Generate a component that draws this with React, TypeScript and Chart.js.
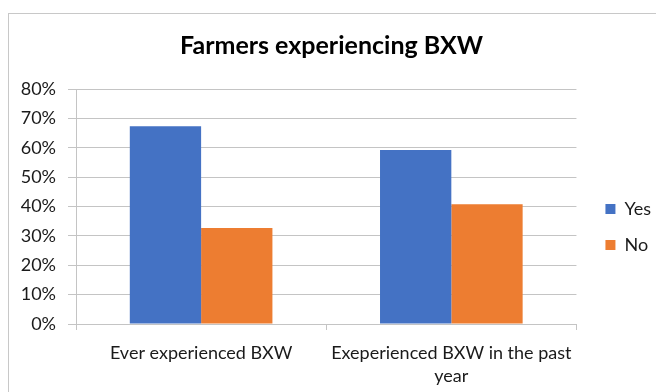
import React, { useEffect, useRef } from "react";
import { Chart, registerables } from "chart.js";

Chart.register(...registerables);

// Categories (second label wraps onto two lines)
const categories: (string | string[])[] = [
  "Ever experienced BXW",
  ["Exeperienced BXW in the past", "year"],
];

// Share of farmers, in percent
const yesValues = [67.3, 59.2];
const noValues = [32.7, 40.8];

const seriesNames = ["Yes", "No"];
const yTickMax = 80;
const yTickStep = 10;

const FONT = "Lato, 'Open Sans', sans-serif";
const TEXT = "#1a1a1a";
const GRID = "#c4c4c4";

// Nudges the right-hand legend away from the plot and down towards the middle
const legendOffset = {
  id: "legendOffset",
  afterLayout(chart: any) {
    const lg = chart.legend;
    if (!lg) return;
    lg.left += 11;
    lg.right += 11;
    lg.top += 26;
    lg.bottom += 26;
  },
};

export default function App() {
  const canvasRef = useRef<HTMLCanvasElement | null>(null);

  useEffect(() => {
    if (!canvasRef.current) return;
    const chart = new Chart(canvasRef.current, {
      type: "bar",
      data: {
        labels: categories,
        datasets: [
          {
            label: seriesNames[0],
            data: yesValues,
            backgroundColor: "#4472C4",
            barPercentage: 1,
            categoryPercentage: 0.57,
          },
          {
            label: seriesNames[1],
            data: noValues,
            backgroundColor: "#ED7D31",
            barPercentage: 1,
            categoryPercentage: 0.57,
          },
        ],
      },
      plugins: [legendOffset],
      options: {
        animation: false,
        responsive: false,
        maintainAspectRatio: false,
        layout: { padding: { left: 4, right: 14, top: 0, bottom: 4 } },
        plugins: {
          title: {
            display: true,
            text: "Farmers experiencing BXW",
            color: "#000",
            font: { family: FONT, size: 25, weight: "bold", lineHeight: 1.2 },
            padding: { top: 17, bottom: 28 },
          },
          legend: {
            position: "right",
            labels: {
              boxWidth: 10,
              boxHeight: 10,
              padding: 18,
              color: TEXT,
              font: { family: FONT, size: 18 },
            },
          },
          tooltip: { enabled: false },
        },
        scales: {
          x: {
            afterFit: (scale: any) => {
              scale.height = 64;
            },
            grid: {
              display: true,
              drawOnChartArea: false,
              drawTicks: true,
              tickLength: 6,
              color: GRID,
            },
            border: { color: GRID },
            ticks: {
              color: TEXT,
              font: { family: FONT, size: 18, lineHeight: 1.3 },
              maxRotation: 0,
              padding: 11,
            },
          },
          y: {
            min: 0,
            max: yTickMax,
            afterFit: (scale: any) => {
              scale.width = 63;
            },
            grid: {
              color: GRID,
              tickLength: 8,
            },
            border: { color: GRID },
            ticks: {
              stepSize: yTickStep,
              color: TEXT,
              font: { family: FONT, size: 18 },
              padding: 12,
              callback: (v: any) => `${v}%`,
            },
          },
        },
      },
    });
    return () => chart.destroy();
  }, []);

  return (
    <div
      style={{
        marginTop: 5,
        width: 655,
        height: 378,
        borderTop: "1px solid #c8c8c8",
        borderLeft: "1px solid #c8c8c8",
        background: "#fff",
      }}
    >
      <canvas ref={canvasRef} width={655} height={378} style={{ display: "block" }} />
    </div>
  );
}
